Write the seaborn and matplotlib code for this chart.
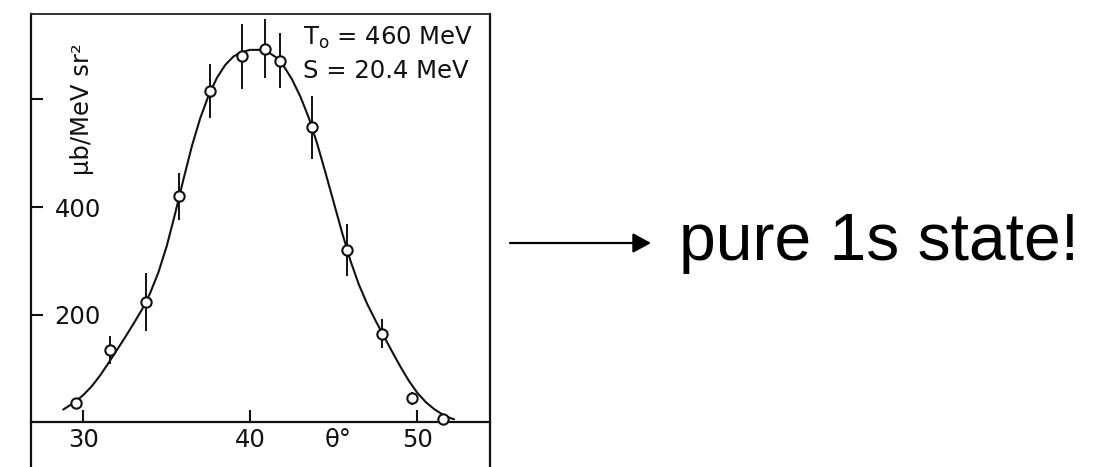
import numpy as np
import pandas as pd
import matplotlib
matplotlib.use("Agg")
import matplotlib.pyplot as plt
import seaborn as sns

# ---- data ----
theta_pts = [29.56, 31.6, 33.74, 35.73, 37.58, 39.52, 40.88, 41.78, 43.71, 45.77, 47.87, 49.66, 51.56]
sigma_pts = [37, 134, 223, 420, 615, 680, 694, 672, 548, 320, 165, 45, 7]
sigma_err = [0, 26, 54, 44, 50, 60, 55, 51, 58, 48, 27, 12, 8]

curve_theta = [28.8, 29.0, 29.5, 30.0, 30.5, 31.0, 31.5, 32.0, 32.5, 33.0, 33.5, 34.0, 34.5,
               35.0, 35.5, 36.0, 36.5, 37.0, 37.5, 38.0, 38.5, 39.0, 39.5, 40.0, 40.5,
               41.0, 41.5, 42.0, 42.5, 43.0, 43.5, 44.0, 44.5, 45.0, 45.5, 46.0, 46.5,
               47.0, 47.5, 48.0, 48.5, 49.0, 49.5, 50.0, 50.5, 51.0, 51.5, 52.0, 52.2]
curve_sigma = [24, 28, 38, 51, 67, 87, 110, 134, 158, 183, 209, 240, 279,
               328, 388, 452, 513, 565, 607, 640, 664, 680, 688, 692, 692,
               689, 679, 662, 637, 605, 566, 518, 464, 408, 352, 300, 256,
               220, 189, 160, 131, 103, 77, 55, 38, 25, 15, 8, 6]

x_ticks = [30, 40, 50]
x_ticklabels = ["30", "40", "50"]
y_ticks = [200, 400, 600]
y_ticklabels = ["200", "400", ""]

param_lines = ["T$_\\mathregular{o}$ = 460 MeV", "S = 20.4 MeV"]
y_label = "μb/MeV sr²"
x_label = "θ°"
note = "pure 1s state!"

# ---- figure ----
sns.set_theme(style="white")
plt.rcParams["font.family"] = ["DejaVu Sans"]

W, H = 1097, 467
fig = plt.figure(figsize=(W / 100, H / 100), dpi=100)
ax = fig.add_axes([31 / W, -13 / H, 459 / W, (H - 14 + 13) / H])

ink = "#111111"

pts = pd.DataFrame({"theta": theta_pts, "sigma": sigma_pts, "err": sigma_err})
curve = pd.DataFrame({"theta": curve_theta, "sigma": curve_sigma})

sns.lineplot(data=curve, x="theta", y="sigma", ax=ax, color=ink, lw=1.5, sort=True, zorder=2)
ax.errorbar(pts["theta"], pts["sigma"], yerr=pts["err"], fmt="none",
            ecolor=ink, elinewidth=1.4, capsize=0, zorder=3)
sns.scatterplot(data=pts, x="theta", y="sigma", ax=ax, marker="o", s=55,
                facecolor="white", edgecolor=ink, linewidth=1.5, zorder=4)

ax.set_xlim(26.87, 54.35)
ax.set_ylim(-106.8, 758.6)

for side in ["left", "right"]:
    ax.spines[side].set_color(ink)
    ax.spines[side].set_linewidth(1.6)
ax.spines["top"].set_color("#222222")
ax.spines["top"].set_linewidth(1.3)
ax.spines["bottom"].set_position(("data", 0))
ax.spines["bottom"].set_color(ink)
ax.spines["bottom"].set_linewidth(1.6)

ax.set_xticks(x_ticks)
ax.set_xticklabels(x_ticklabels)
ax.set_yticks(y_ticks)
ax.set_yticklabels(y_ticklabels)
ax.tick_params(axis="x", direction="in", length=8.5, width=1.5, color=ink,
               labelsize=17.5, labelcolor=ink, pad=4, bottom=True)
ax.tick_params(axis="y", direction="in", length=8.5, width=1.5, color=ink,
               labelsize=17.5, labelcolor=ink, pad=-17, left=True)
for lab in ax.get_yticklabels():
    lab.set_horizontalalignment("left")
ax.set_xlabel("")
ax.set_ylabel("")
ax.grid(False)

# scan annotations
fig.text(303 / W, 1 - 45 / H, param_lines[0], fontsize=17.5, color=ink,
         va="baseline", ha="left")
fig.text(303 / W, 1 - 78 / H, param_lines[1], fontsize=17.5, color=ink,
         va="baseline", ha="left")
fig.text(82 / W, 1 - 109 / H, y_label, rotation=90, fontsize=17.5, color=ink,
         ha="center", va="center")
fig.text(338 / W, 1 - 440 / H, x_label, fontsize=17.5, color=ink,
         ha="center", va="center")

# arrow and note on the right
fig.add_artist(matplotlib.patches.FancyArrowPatch(
    (510 / W, 1 - 243 / H), (651 / W, 1 - 243 / H), transform=fig.transFigure,
    arrowstyle="-|>,head_length=1.1,head_width=0.6", mutation_scale=10,
    color="black", lw=1.6, shrinkA=0, shrinkB=0))
fig.text(679 / W, 1 - 260 / H, note, fontsize=47.5, color="black",
         family=["Liberation Sans", "DejaVu Sans"], ha="left", va="baseline")

fig.savefig("out.png", dpi=100)
